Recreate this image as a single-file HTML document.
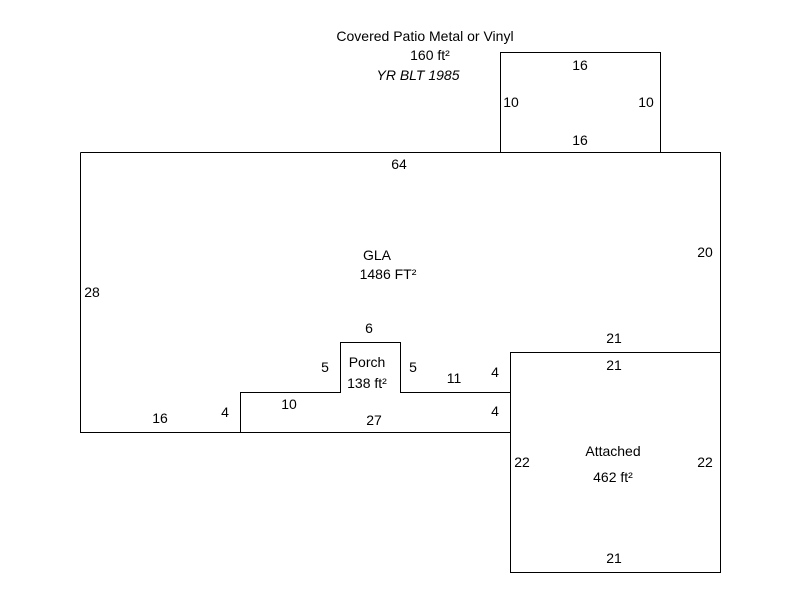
<!DOCTYPE html>
<html><head><style>body{margin:0;background:#fff}svg text{font-family:"Liberation Sans",Arial,sans-serif;font-size:14px;fill:#000}</style></head>
<body>
<svg width="800" height="600" xmlns="http://www.w3.org/2000/svg">
<g fill="none" stroke="#000" stroke-width="1" shape-rendering="crispEdges">
<rect x="500.5" y="52.5" width="160" height="100"/>
<polyline points="80.5,152.5 720.5,152.5 720.5,352.5"/>
<polyline points="80.5,152.5 80.5,432.5 240.5,432.5 240.5,392.5 340.5,392.5 340.5,342.5 400.5,342.5 400.5,392.5 510.5,392.5"/>
<line x1="240.5" y1="432.5" x2="510.5" y2="432.5"/>
<rect x="510.5" y="352.5" width="210" height="220"/>
</g>
<g text-anchor="middle">
<text x="425" y="41">Covered Patio Metal or Vinyl</text>
<text x="430" y="60">160 ft²</text>
<text x="418" y="80" font-style="italic">YR BLT 1985</text>
<text x="580" y="70">16</text>
<text x="580" y="145">16</text>
<text x="511" y="107">10</text>
<text x="646" y="107">10</text>
<text x="399" y="169">64</text>
<text x="377" y="260">GLA</text>
<text x="388" y="279">1486 FT²</text>
<text x="705" y="257">20</text>
<text x="92" y="297">28</text>
<text x="369" y="333">6</text>
<text x="325" y="372">5</text>
<text x="367" y="367">Porch</text>
<text x="367" y="388">138 ft²</text>
<text x="413" y="372">5</text>
<text x="454" y="383">11</text>
<text x="495" y="377">4</text>
<text x="495" y="416">4</text>
<text x="614" y="343">21</text>
<text x="614" y="370">21</text>
<text x="289" y="409">10</text>
<text x="374" y="425">27</text>
<text x="160" y="423">16</text>
<text x="225" y="417">4</text>
<text x="613" y="456">Attached</text>
<text x="613" y="482">462 ft²</text>
<text x="522" y="467">22</text>
<text x="705" y="467">22</text>
<text x="614" y="563">21</text>
</g>
</svg>
</body></html>
